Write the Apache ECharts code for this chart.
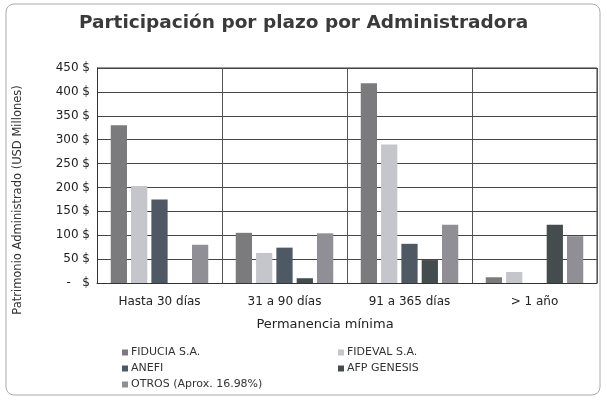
<!DOCTYPE html>
<html>
<head>
<meta charset="utf-8">
<script src="https://cdn.jsdelivr.net/npm/echarts@6/dist/echarts.min.js"></script>
<style>
html, body { margin: 0; padding: 0; background: #fff; }
#chart { width: 607px; height: 400px; }
</style>
</head>
<body>
<div id="chart"></div>
<script>
var categorias = ['Hasta 30 días', '31 a 90 días', '91 a 365 días', '> 1 año'];
var fiducia = [330, 105, 418, 12];
var fideval = [203, 63, 290, 23];
var anefi = [175, 74, 82, 0];
var afpGenesis = [0, 10, 48, 122];
var otros = [80, 104, 122, 98];

var fuente = 'DejaVu Sans';
var chart = echarts.init(document.getElementById('chart'));

function serie(nombre, datos, color) {
	return {
		name: nombre,
		type: 'bar',
		data: datos,
		barGap: '25%',
		barCategoryGap: '22%',
		itemStyle: { color: color }
	};
}

var leyendaBase = {
	orient: 'vertical',
	top: 342,
	itemWidth: 6,
	itemHeight: 6,
	itemGap: 5,
	icon: 'rect',
	textStyle: { fontSize: 11, color: '#333', padding: [0, 0, 0, -2] }
};

var option = {
	backgroundColor: '#fff',
	textStyle: { fontFamily: fuente },
	title: {
		text: 'Participación por plazo por Administradora',
		left: 'center',
		top: 9,
		textStyle: { fontSize: 18.5, fontWeight: 'bold', color: '#3a3a3a', fontFamily: fuente }
	},
	legend: [
		Object.assign({ data: ['FIDUCIA S.A.', 'ANEFI', 'OTROS (Aprox. 16.98%)'], left: 117 }, leyendaBase),
		Object.assign({ data: ['FIDEVAL S.A.', 'AFP GENESIS'], left: 333 }, leyendaBase)
	],
	grid: { left: 97, right: 10, top: 68, bottom: 117 },
	xAxis: {
		type: 'category',
		data: categorias,
		axisTick: { show: false },
		axisLine: { lineStyle: { color: '#333' } },
		splitLine: { show: true, lineStyle: { color: '#555' } },
		axisLabel: { fontSize: 12, color: '#222', margin: 13 }
	},
	yAxis: {
		type: 'value',
		min: 0,
		max: 450,
		interval: 50,
		axisLine: { show: true, lineStyle: { color: '#333' } },
		axisTick: { show: false },
		splitLine: { lineStyle: { color: '#444' } },
		axisLabel: {
			fontSize: 12,
			color: '#222',
			margin: 7,
			formatter: function (v) { return v === 0 ? '-   $' : v + ' $'; }
		}
	},
	graphic: [{
		type: 'rect',
		shape: { x: 6, y: 4, width: 594, height: 391, r: 8 },
		style: { fill: 'none', stroke: '#aaa', lineWidth: 1 },
		silent: true
	}, {
		type: 'line',
		shape: { x1: 97, y1: 68, x2: 597, y2: 68 },
		style: { stroke: '#333', lineWidth: 1 }
	}, {
		type: 'line',
		shape: { x1: 597, y1: 68, x2: 597, y2: 283 },
		style: { stroke: '#333', lineWidth: 1 }
	}, {
		type: 'text',
		x: 18,
		y: 200,
		rotation: Math.PI / 2,
		style: {
			text: 'Patrimonio Administrado (USD Millones)',
			fontSize: 11.5,
			fontFamily: fuente,
			fill: '#333',
			textAlign: 'center',
			textVerticalAlign: 'middle'
		}
	}, {
		type: 'text',
		x: 325,
		y: 325,
		style: {
			text: 'Permanencia mínima',
			fontSize: 13,
			fontFamily: fuente,
			fill: '#222',
			textAlign: 'center',
			textVerticalAlign: 'middle'
		}
	}],
	series: [
		serie('FIDUCIA S.A.', fiducia, '#7b7b7d'),
		serie('FIDEVAL S.A.', fideval, '#c5c5cc'),
		serie('ANEFI', anefi, '#4e5963'),
		serie('AFP GENESIS', afpGenesis, '#454c4d'),
		serie('OTROS (Aprox. 16.98%)', otros, '#8f8f95')
	]
};
chart.setOption(option);
window.addEventListener('resize', function () {
	chart.resize();
});
</script>
</body>
</html>
